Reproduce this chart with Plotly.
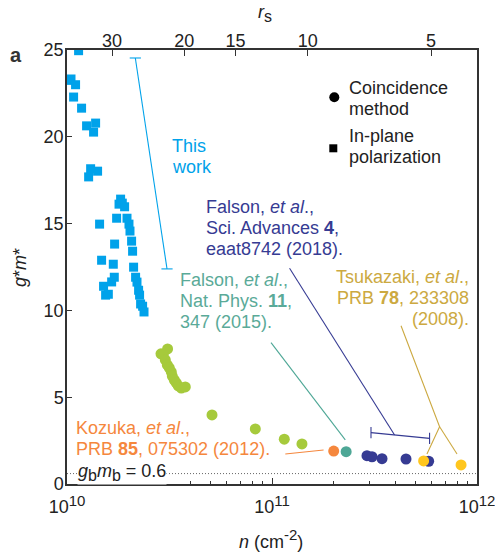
import plotly.graph_objects as go

# ---------------- data ----------------
# In-plane polarization (this work), squares
inplane_n = [1.139e10, 1.011e10, 1.046e10, 1.101e10, 1.077e10, 1.178e10, 1.246e10, 1.379e10,
             1.348e10, 1.304e10, 1.275e10, 1.410e10, 1.442e10, 1.475e10, 1.508e10, 1.543e10,
             1.591e10, 1.651e10, 1.701e10, 1.682e10, 1.707e10, 1.746e10, 1.794e10, 1.826e10,
             1.861e10, 1.910e10, 1.962e10, 2.006e10, 2.029e10, 2.066e10, 2.089e10, 2.113e10,
             2.161e10, 2.195e10, 2.235e10, 2.260e10, 2.286e10, 2.338e10, 2.375e10]
inplane_g = [24.96, 23.25, 23.33, 23.00, 22.29, 21.65, 20.63, 20.79,
             20.27, 18.16, 17.69, 18.02, 14.97, 12.89, 11.39, 10.88,
             10.93, 11.64, 11.91, 12.66, 13.82, 15.31, 16.12, 16.41,
             16.18, 15.97, 15.31, 14.97, 14.57, 13.99, 13.41, 12.49,
             11.91, 11.63, 11.16, 10.88, 10.37, 10.24, 9.91]

# Coincidence method (lime circles)
lime_n = [3.095e10, 2.874e10, 2.950e10, 3.017e10, 3.085e10, 3.155e10, 3.227e10, 3.263e10,
          3.337e10, 3.413e10, 3.490e10, 3.611e10, 3.776e10, 5.097e10, 8.29e10, 1.148e11, 1.40e11]
lime_g = [7.78, 7.50, 7.44, 7.15, 6.86, 6.69, 6.46, 6.22,
          5.99, 5.82, 5.65, 5.53, 5.59, 3.98, 3.17, 2.58, 2.31]

kozuka_n = [2.00e11]
kozuka_g = [1.90]
falson15_n = [2.30e11]
falson15_g = [1.86]
falson18_n = [2.906e11, 3.075e11, 3.441e11, 4.505e11, 5.81e11]
falson18_g = [1.63, 1.57, 1.46, 1.44, 1.31]
tsuk_n = [5.49e11, 8.36e11]
tsuk_g = [1.33, 1.10]

gbmb = 0.6

# leader / bracket lines of the labels (data coords)
thiswork_bar_n = [2.154e10, 3.075e10]
thiswork_bar_g = [24.54, 12.39]
sciadv_leader_n = [1.218e11, 3.963e11]
sciadv_leader_g = [12.43, 2.82]
sciadv_bar_n = [3.04e11, 5.87e11]
sciadv_bar_g = [2.96, 2.63]
natphys_leader_n = [9.89e10, 2.278e11]
natphys_leader_g = [8.14, 2.54]
kozuka_leader_n = [1.161e11, 1.785e11]
kozuka_leader_g = [1.73, 1.96]
tsuk_leader_n = [4.26e11, 6.57e11, 5.70e11, None, 6.57e11, 7.99e11]
tsuk_leader_g = [9.12, 3.30, 1.73, None, 3.30, 1.73]

# axes
x_tickvals = [1e10, 1e11, 1e12]
x_ticktext = ["10<sup><span style='font-size:15px'>10</span></sup>",
              "10<sup><span style='font-size:15px'>11</span></sup>",
              "10<sup><span style='font-size:15px'>12</span></sup>"]
y_tickvals = [0, 5, 10, 15, 20, 25]
rs_ticks = [30, 20, 15, 10, 5]
n_rs1 = 1.493e13  # n (cm^-2) corresponding to r_s = 1 ; n = n_rs1 / r_s^2

# ---------------- style ----------------
C_BLUE = "#00A2EA"
C_LIME = "#A6CA3C"
C_ORANGE = "#F5873D"
C_TEAL = "#4EA796"
C_TEAL_T = "#5AAA98"
C_DARK = "#363B93"
C_YEL = "#FFC61E"
C_GOLD = "#CCA941"
AX = "#333333"
TXT = "#222222"
FONT = "Liberation Sans, Arial, sans-serif"

fig = go.Figure()

def line(xs, ys, color, cap=None):
    fig.add_trace(go.Scatter(
        x=xs, y=ys, mode="lines+markers" if cap else "lines",
        line=dict(color=color, width=1.1),
        marker=dict(symbol=cap, size=8, line=dict(color=color, width=1.1), color=color) if cap else None,
        showlegend=False, hoverinfo="skip", connectgaps=False))

# reference line g_b m_b
fig.add_trace(go.Scatter(x=[1e10, 1e12], y=[gbmb, gbmb], mode="lines",
                         line=dict(color="#666666", width=1, dash="1px,2px"),
                         showlegend=False, hoverinfo="skip"))

line(thiswork_bar_n, thiswork_bar_g, C_BLUE, "line-ew")
line(sciadv_leader_n, sciadv_leader_g, C_DARK)
line(sciadv_bar_n, sciadv_bar_g, C_DARK, "line-ns")
line(natphys_leader_n, natphys_leader_g, C_TEAL)
line(kozuka_leader_n, kozuka_leader_g, C_ORANGE)
line(tsuk_leader_n, tsuk_leader_g, C_GOLD)

def pts(xs, ys, color, symbol="circle", size=11):
    fig.add_trace(go.Scatter(x=xs, y=ys, mode="markers",
                             marker=dict(color=color, symbol=symbol, size=size, line=dict(width=0)),
                             showlegend=False))

pts(inplane_n, inplane_g, C_BLUE, "square", 9)
pts(lime_n, lime_g, C_LIME)
pts(kozuka_n, kozuka_g, C_ORANGE)
pts(falson15_n, falson15_g, C_TEAL)
pts(falson18_n, falson18_g, C_DARK)
pts(tsuk_n, tsuk_g, C_YEL)

# dummy trace on top axis
fig.add_trace(go.Scatter(x=[None], y=[None], xaxis="x2", showlegend=False))

L, R, T, B = 67, 477, 50, 484
W, H = 495, 559

def px(x):
    return (x - L) / (R - L)

def py(y):
    return (B - y) / (B - T)

def text_block(lines, x, y0, color, anchor="left", spacing=21, size=18):
    for i, t in enumerate(lines):
        fig.add_annotation(x=px(x), y=py(y0 + i * spacing), xref="paper", yref="paper",
                           text=t, showarrow=False, xanchor=anchor, yanchor="middle",
                           align=anchor, font=dict(size=size, color=color, family=FONT))

text_block(["This", "work"], 170, 146, C_BLUE)
text_block(["Falson, <i>et al</i>.,", "Sci. Advances <b>4</b>,", "eaat8742 (2018)."], 204, 207, C_DARK)
text_block(["Falson, <i>et al</i>.,", "Nat. Phys. <b>11</b>,", "347 (2015)."], 178, 280, C_TEAL_T)
text_block(["Tsukazaki, <i>et al</i>.,", "PRB <b>78</b>, 233308", "(2008)."], 471, 277, C_GOLD, anchor="right")
text_block(["Kozuka, <i>et al</i>.,", "PRB <b>85</b>, 075302 (2012)."], 74, 428, C_ORANGE)

# legend (symbols + text)
def legend_symbol(kind, x, y, half):
    fig.add_shape(type=kind, xref="paper", yref="paper", xsizemode="pixel", ysizemode="pixel",
                  xanchor=px(x), yanchor=py(y), x0=-half, x1=half, y0=-half, y1=half,
                  fillcolor="black", line=dict(width=0))

legend_symbol("circle", 334.3, 97.3, 5)
legend_symbol("rect", 333.3, 148.3, 4)
text_block(["Coincidence", "method"], 347, 88.3, TXT)
text_block(["In-plane", "polarization"], 347, 136, TXT)

# g_b m_b label
SUB = "<sub><span style='font-size:16px'>b</span></sub>"
fig.add_annotation(x=px(77), y=gbmb, xref="paper", yref="y", yshift=1,
                   text="<i>g</i>" + SUB + "<i>m</i>" + SUB + " = 0.6", showarrow=False,
                   xanchor="left", yanchor="middle", bgcolor="white", borderpad=0,
                   font=dict(size=18, color=TXT, family=FONT))

def label(text, x, y, angle=0, size=18, color=TXT):
    fig.add_annotation(x=px(x), y=py(y), xref="paper", yref="paper", textangle=angle,
                       text=text, showarrow=False, xanchor="center", yanchor="middle",
                       font=dict(size=size, color=color, family=FONT))

label("<i>n</i> (cm<sup><span style='font-size:15px'>-2</span></sup>)", 271, 539)
label("<i>r</i><sub><span style='font-size:16px'>s</span></sub>", 265, 14)
label("<i>g</i>*<i>m</i>*", 20, 268, angle=-90)
label("<b>a</b>", 16, 55, size=20, color="#333333")

axis_common = dict(showline=True, linecolor=AX, linewidth=1.5, ticks="inside",
                   tickcolor=AX, tickwidth=1.2, showgrid=False, zeroline=False,
                   automargin=False, ticklabeloverflow="allow",
                   tickfont=dict(size=18, color=TXT, family=FONT))

fig.update_layout(
    template="none",
    width=W, height=H,
    margin=dict(l=L, r=W - R, t=T, b=H - B, pad=0, autoexpand=False),
    plot_bgcolor="white", paper_bgcolor="white",
    font=dict(family=FONT, size=18, color=TXT),
    xaxis=dict(type="log", range=[10, 12], tickvals=x_tickvals, ticktext=x_ticktext,
               ticklen=6, minor=dict(ticks="inside", ticklen=3, tickcolor=AX, dtick="D1",
                                     showgrid=False),
               ticklabelstandoff=6, **axis_common),
    xaxis2=dict(type="log", range=[10, 12], overlaying="x", side="top", anchor="y",
                tickvals=[n_rs1 / r ** 2 for r in rs_ticks], ticktext=[str(r) for r in rs_ticks],
                ticklen=6, ticklabelstandoff=-6, **axis_common),
    yaxis=dict(range=[0, 25], tickvals=y_tickvals, ticklen=5, mirror=True,
               ticklabelstandoff=-2, **axis_common),
    showlegend=False,
)

fig.write_html("out.html")
